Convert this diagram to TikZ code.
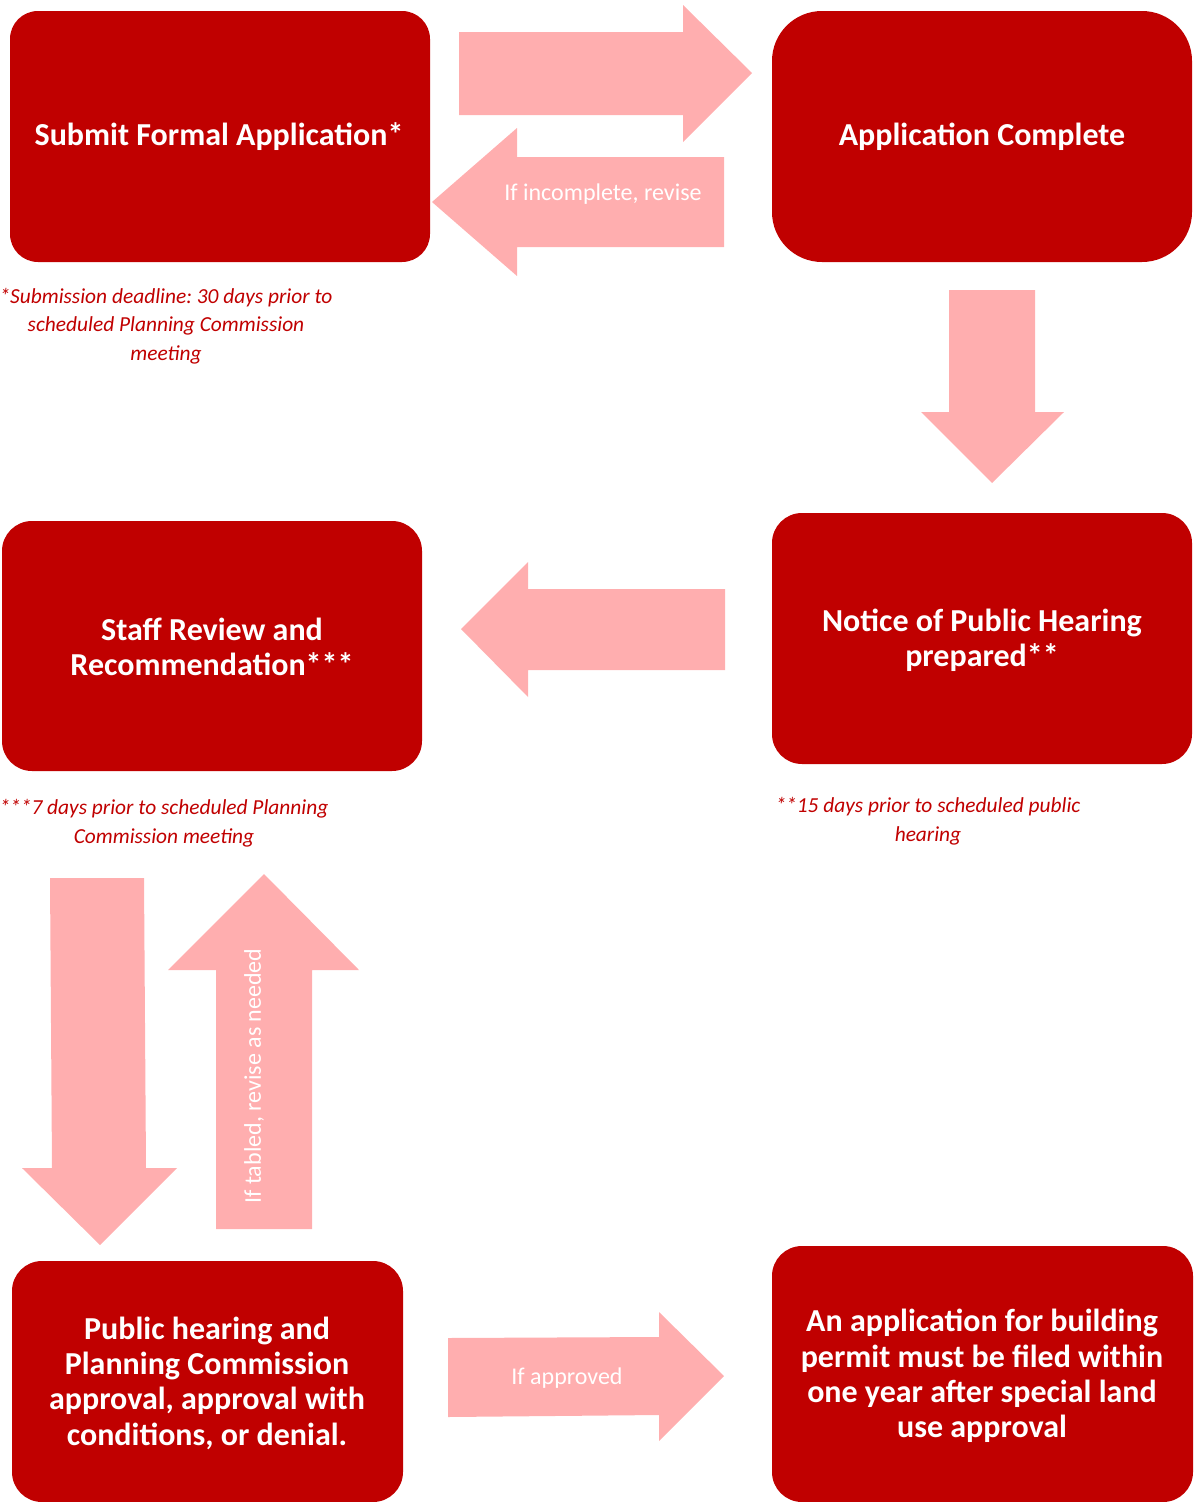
\documentclass[tikz,border=0pt]{standalone}
\usepackage{fontspec}
\setmainfont{Carlito}
\definecolor{boxred}{RGB}{192,0,0}
\definecolor{pinkarrow}{RGB}{255,174,175}
\frenchspacing
\begin{document}
\begin{tikzpicture}[x=1pt,y=-1pt,
  redbox/.style={fill=boxred,draw=none},
  boxtext/.style={text=white,font=\fontsize{32}{35.3}\selectfont\bfseries,align=center,inner sep=0pt},
  notetext/.style={text=boxred,font=\fontsize{21.4}{28.5}\selectfont\itshape,align=center,inner sep=0pt},
  arrowtext/.style={text=white,font=\fontsize{24}{28}\selectfont,inner sep=0pt},
  blockarrow/.style={fill=pinkarrow,draw=none}]
\useasboundingbox (0,0) rectangle (1197,1502);
% boxes
\fill[redbox,rounded corners=28pt] (10,11) rectangle (430,262);
\fill[redbox,rounded corners=50pt] (772,11) rectangle (1192,262);
\fill[redbox,rounded corners=30pt] (772,513) rectangle (1192,764);
\fill[redbox,rounded corners=30pt] (2,521) rectangle (422,771);
\fill[redbox,rounded corners=30pt] (12,1261) rectangle (403,1502);
\fill[redbox,rounded corners=30pt] (772,1246) rectangle (1193,1502);
% box texts
\node[boxtext] (submit) at (219,137) {Submit Formal Application*};
\node[boxtext] (complete) at (982,137) {Application Complete};
\node[boxtext] (notice) at (982,640) {Notice of Public Hearing\\prepared**};
\node[boxtext] (staff) at (212,647) {Staff Review and\\Recommendation***};
\node[boxtext] (hearing) at (207,1383) {Public hearing and\\Planning Commission\\approval, approval with\\conditions, or denial.};
\node[boxtext] (permit) at (982,1376) {An application for building\\permit must be filed within\\one year after special land\\use approval};
% notes
\node[notetext] (note1) at (166,326) {*Submission deadline: 30 days prior to\\scheduled Planning Commission\\meeting};
\node[notetext] (note3) at (164,823) {***7 days prior to scheduled Planning\\Commission meeting};
\node[notetext] (note2) at (928,821) {**15 days prior to scheduled public\\hearing};
% block arrows
\fill[blockarrow] (459,32) -- (683,32) -- (683,5) -- (752,73) -- (683,142) -- (683,115) -- (459,115) -- cycle;
\fill[blockarrow] (724,157) -- (517,157) -- (517,128) -- (432,202) -- (517,276) -- (517,247) -- (724,247) -- cycle;
\fill[blockarrow] (949,290) -- (1035,290) -- (1035,412) -- (1064,412) -- (992,483) -- (921,412) -- (949,412) -- cycle;
\fill[blockarrow] (725,589) -- (528,589) -- (528,562) -- (461,629) -- (528,697) -- (528,670) -- (725,670) -- cycle;
\fill[blockarrow] (50,878) -- (144,878) -- (146,1168) -- (177,1168) -- (100,1245) -- (22,1168) -- (52,1168) -- cycle;
\fill[blockarrow] (216,1229) -- (216,970) -- (168,970) -- (264,874) -- (359,970) -- (312,970) -- (312,1229) -- cycle;
\fill[blockarrow] (448,1338) -- (659,1337) -- (659,1312) -- (724,1376) -- (659,1441) -- (659,1415) -- (448,1417) -- cycle;
% arrow labels
\node[arrowtext] (revise) at (603,194) {If incomplete, revise};
\node[arrowtext,rotate=90] (tabled) at (254,1076) {If tabled, revise as needed};
\node[arrowtext] (approved) at (567,1378) {If approved};
\end{tikzpicture}
\end{document}
